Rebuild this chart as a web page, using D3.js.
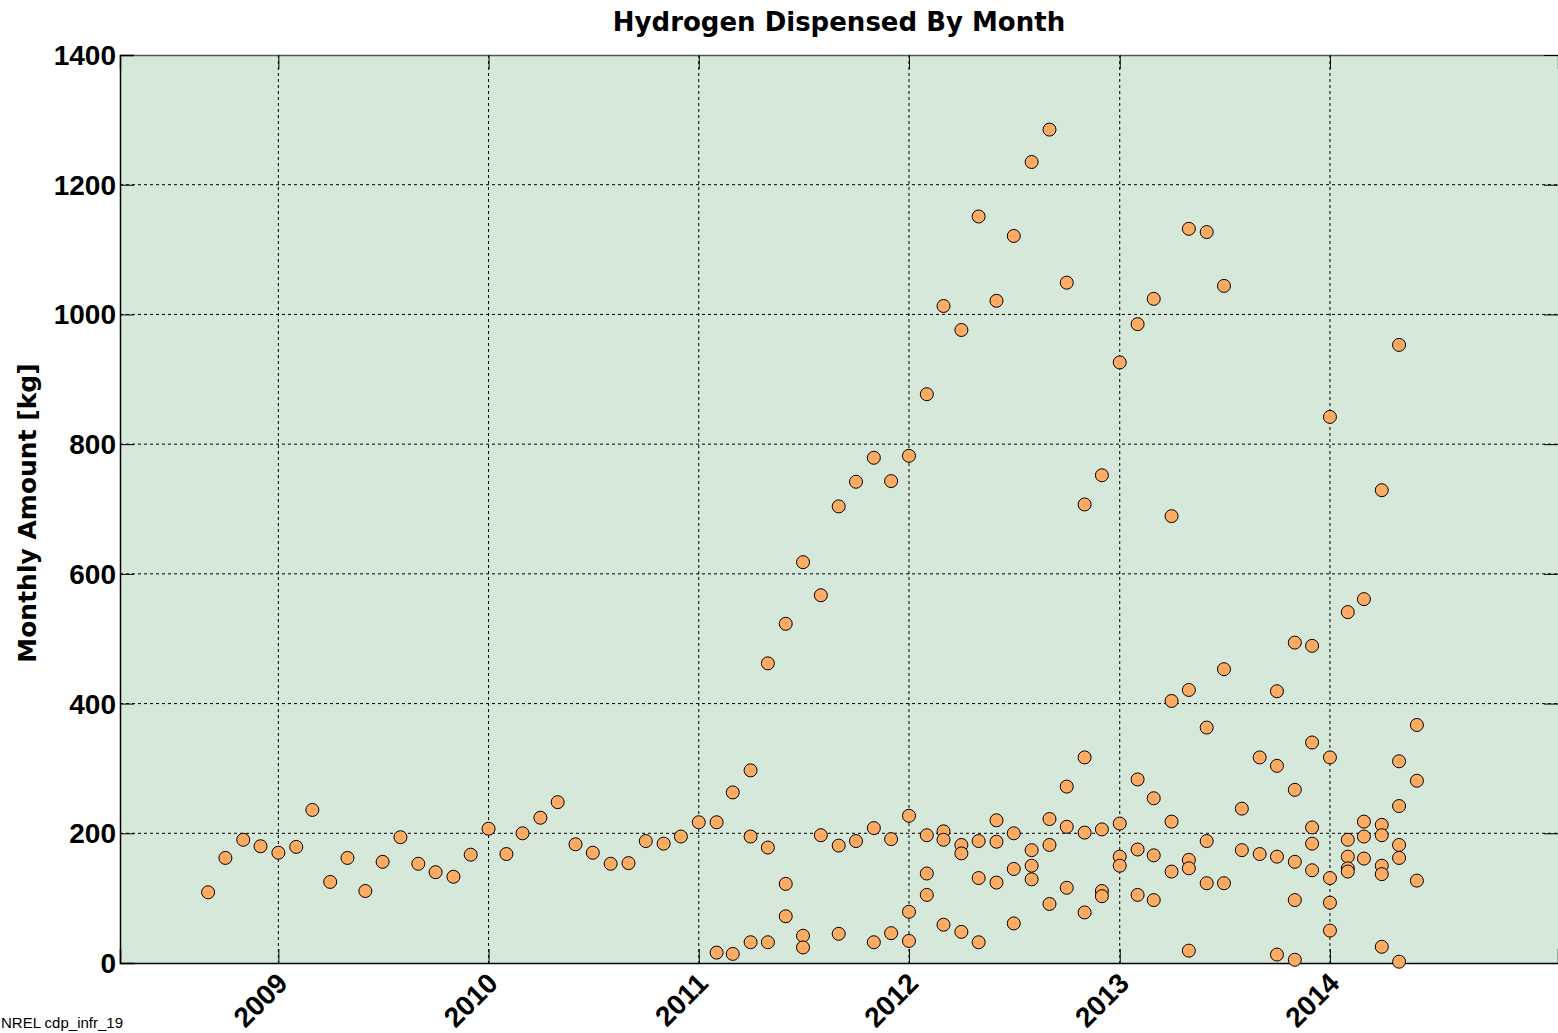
<!DOCTYPE html>
<html>
<head>
  <title>Hydrogen Dispensed By Month</title>
  <script src="https://d3js.org/d3.v7.min.js"></script>
  <style>
    * { margin: 0; box-sizing: border-box; }
    body { background: #fff; }
    .grid line { stroke: #000; stroke-width: 1px; stroke-dasharray: 3,3; }
    .tick-label { font: bold 28px "Liberation Sans", Arial, sans-serif; fill: #000; }
    .dot { fill: #ffab62; stroke: #000; stroke-width: 1px; }
  </style>
</head>
<body>
  <script>
    // monthly amounts [kg], one entry per month: [month, values of all stations]
    const data2008 = [
      ["2008-09", [109]], ["2008-10", [162]], ["2008-11", [190]], ["2008-12", [180]]
    ];
    const data2009 = [
      ["2009-01", [170]], ["2009-02", [179]], ["2009-03", [236]], ["2009-04", [125]],
      ["2009-05", [162]], ["2009-06", [111]], ["2009-07", [156]], ["2009-08", [194]],
      ["2009-09", [153]], ["2009-10", [140]], ["2009-11", [133]], ["2009-12", [167]]
    ];
    const data2010 = [
      ["2010-01", [207]], ["2010-02", [168]], ["2010-03", [200]], ["2010-04", [224]],
      ["2010-05", [248]], ["2010-06", [183]], ["2010-07", [170]], ["2010-08", [153]],
      ["2010-09", [154]], ["2010-10", [188]], ["2010-11", [184]], ["2010-12", [195]]
    ];
    const data2011 = [
      ["2011-01", [217]], ["2011-02", [217, 16]], ["2011-03", [263, 14]],
      ["2011-04", [297, 195, 32]], ["2011-05", [462, 178, 32]], ["2011-06", [523, 122, 72]],
      ["2011-07", [618, 42, 24]], ["2011-08", [567, 197]], ["2011-09", [704, 181, 45]],
      ["2011-10", [742, 188]], ["2011-11", [779, 208, 32]], ["2011-12", [743, 191, 46]]
    ];
    const data2012 = [
      ["2012-01", [782, 227, 79, 34]], ["2012-02", [877, 197, 138, 105]],
      ["2012-03", [1013, 203, 190, 59]], ["2012-04", [976, 182, 169, 48]],
      ["2012-05", [1151, 188, 131, 32]], ["2012-06", [1021, 220, 187, 124]],
      ["2012-07", [1121, 200, 145, 61]], ["2012-08", [1235, 174, 150, 129]],
      ["2012-09", [1285, 222, 182, 91]], ["2012-10", [1049, 272, 210, 116]],
      ["2012-11", [707, 317, 201, 78]], ["2012-12", [752, 206, 111, 103]]
    ];
    const data2013 = [
      ["2013-01", [926, 215, 164, 150]], ["2013-02", [985, 283, 175, 105]],
      ["2013-03", [1024, 254, 166, 97]], ["2013-04", [689, 404, 218, 141]],
      ["2013-05", [1132, 421, 159, 146, 19]], ["2013-06", [1127, 363, 188, 123]],
      ["2013-07", [1044, 453, 123]], ["2013-08", [238, 174]], ["2013-09", [317, 168]],
      ["2013-10", [419, 304, 164, 13]], ["2013-11", [494, 267, 156, 97, 5]],
      ["2013-12", [489, 340, 209, 184, 143]]
    ];
    const data2014 = [
      ["2014-01", [842, 317, 131, 93, 50]], ["2014-02", [541, 190, 164, 146, 141]],
      ["2014-03", [561, 218, 195, 161]], ["2014-04", [729, 213, 197, 150, 137, 25]],
      ["2014-05", [953, 311, 242, 182, 162, 2]], ["2014-06", [367, 281, 127]]
    ];
    const yearTicks = ["2009", "2010", "2011", "2012", "2013", "2014"];
    const yTicks = [0, 200, 400, 600, 800, 1000, 1200, 1400];

    const width = 1558, height = 1033;
    const m = { left: 120, right: 1558, top: 55, bottom: 963 };
    const parseMonth = d3.timeParse("%Y-%m");
    const parseYear = d3.timeParse("%Y");

    const points = [];
    [data2008, data2009, data2010, data2011, data2012, data2013, data2014].forEach(arr => {
      arr.forEach(([mo, vals]) => vals.forEach(v => points.push({ date: parseMonth(mo), value: v })));
    });

    const x = d3.scaleTime()
      .domain([new Date(2008, 3, 1), new Date(2015, 1, 1)])
      .range([m.left, m.right]);
    const y = d3.scaleLinear().domain([0, 1400]).range([m.bottom, m.top]);

    const svg = d3.select("body").append("svg")
      .attr("width", width)
      .attr("height", height)
      .style("display", "block");

    svg.append("rect")
      .attr("x", m.left).attr("y", m.top)
      .attr("width", m.right - m.left).attr("height", m.bottom - m.top)
      .attr("fill", "#d5e8da");

    // grid
    const grid = svg.append("g").attr("class", "grid");
    grid.selectAll(".vx").data(yearTicks).enter().append("line")
      .attr("x1", d => x(parseYear(d))).attr("x2", d => x(parseYear(d)))
      .attr("y1", m.top).attr("y2", m.bottom);
    grid.selectAll(".hy").data(yTicks.slice(1, -1)).enter().append("line")
      .attr("x1", m.left).attr("x2", m.right)
      .attr("y1", d => y(d)).attr("y2", d => y(d));

    // axes with inward ticks, labels drawn separately
    svg.append("g")
      .attr("transform", `translate(0,${m.bottom})`)
      .call(d3.axisTop(x).tickValues(yearTicks.map(parseYear)).tickSize(14).tickFormat(""))
      .call(g => g.select(".domain").attr("stroke", "#000").attr("stroke-width", 1.5));
    svg.append("g")
      .attr("transform", `translate(0,${m.top})`)
      .call(d3.axisBottom(x).tickValues(yearTicks.map(parseYear)).tickSize(14).tickFormat(""))
      .call(g => g.select(".domain").attr("stroke", "#555").attr("stroke-width", 1.5));
    svg.append("g")
      .attr("transform", `translate(${m.left},0)`)
      .call(d3.axisRight(y).tickValues(yTicks).tickSize(14).tickFormat(""))
      .call(g => g.select(".domain").attr("stroke", "#000").attr("stroke-width", 1.5));
    svg.append("g")
      .attr("transform", `translate(${m.right},0)`)
      .call(d3.axisLeft(y).tickValues(yTicks).tickSize(14).tickFormat(""))
      .call(g => g.select(".domain").remove());

    svg.selectAll(".ylab").data(yTicks).enter().append("text")
      .attr("class", "tick-label")
      .attr("x", m.left - 4)
      .attr("y", d => y(d) + 10)
      .attr("text-anchor", "end")
      .text(d => d);

    svg.selectAll(".xlab").data(yearTicks).enter().append("text")
      .attr("class", "tick-label")
      .attr("text-anchor", "end")
      .attr("transform", d => `translate(${x(parseYear(d)) + 11},${m.bottom + 22}) rotate(-45)`)
      .text(d => d);

    // points
    svg.append("g").selectAll("circle").data(points).enter().append("circle")
      .attr("class", "dot")
      .attr("cx", d => x(d.date))
      .attr("cy", d => y(d.value))
      .attr("r", 6.5);

    svg.append("text")
      .attr("x", (m.left + m.right) / 2).attr("y", 31)
      .attr("text-anchor", "middle")
      .style("font", "bold 26px 'DejaVu Sans', Verdana, sans-serif")
      .text("Hydrogen Dispensed By Month");

    svg.append("text")
      .attr("transform", `translate(36,${(m.top + m.bottom) / 2 + 4}) rotate(-90)`)
      .attr("text-anchor", "middle")
      .style("font", "bold 25px 'DejaVu Sans', Verdana, sans-serif")
      .text("Monthly Amount [kg]");

    svg.append("text")
      .attr("x", 1).attr("y", 1028)
      .style("font", "15px 'Liberation Sans', Arial, sans-serif")
      .text("NREL cdp_infr_19");
  </script>
</body>
</html>
